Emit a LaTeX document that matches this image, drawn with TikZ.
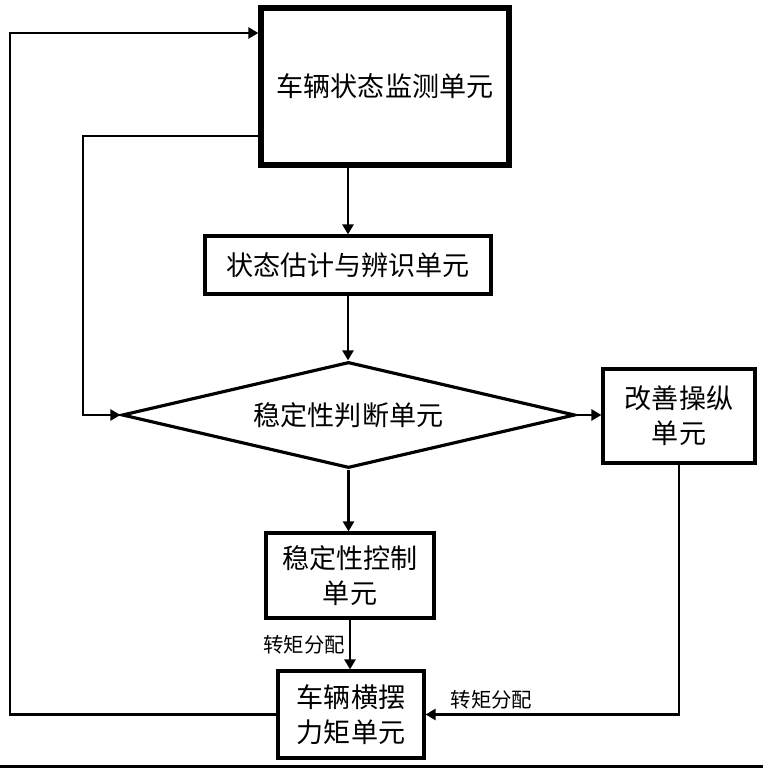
\documentclass[tikz,border=0pt]{standalone}
\usepackage{fontspec}
\newfontfamily\cjk{Noto Sans CJK SC}
\usetikzlibrary{shapes,arrows,positioning,calc,arrows.meta}

\begin{document}
\begin{tikzpicture}[font=\cjk\fontsize{7.7}{10}\selectfont,
    >={Triangle[length=1mm,width=1.1mm]},
    unit/.style={draw, line width=0.9pt, inner sep=0pt, align=center},
    flow/.style={->, line width=0.8pt},
    tag/.style={font=\cjk\fontsize{5.8}{7}\selectfont, inner sep=1pt}]
    \useasboundingbox (0,0) rectangle (7.63,7.68);
    % Units
    \node[unit, line width=1.5pt, minimum width=2.48cm, minimum height=1.57cm] (mon) at (3.85,6.815) {车辆状态监测单元};
    \node[unit, minimum width=2.86cm, minimum height=0.58cm] (est) at (3.48,5.03) {状态估计与辨识单元};
    \node[draw, diamond, aspect=4.27, line width=0.9pt, inner sep=0pt, minimum width=4.53cm, minimum height=1.06cm] (judge) at (3.485,3.53) {稳定性判断单元};
    \node[unit, minimum width=1.52cm, minimum height=0.94cm] (imp) at (6.79,3.52) {改善操纵\\单元};
    \node[unit, minimum width=1.68cm, minimum height=0.85cm] (ctrl) at (3.50,1.925) {稳定性控制\\单元};
    \node[unit, minimum width=1.46cm, minimum height=0.87cm] (yaw) at (3.51,0.535) {车辆横摆\\力矩单元};
    % Loop corners
    \coordinate (outerl) at (0.10,7.35);
    \coordinate (innerl) at (0.83,6.32);
    % Main flow
    \draw[flow] (mon.south -| est.north) -- (est.north);
    \draw[flow] (est.south) -- (est.south |- judge.north);
    \draw[flow] (judge.east) -- (judge.east -| imp.west);
    \draw[flow] (judge.south) -- (judge.south |- ctrl.north);
    \draw[flow] (ctrl.south) -- (ctrl.south |- yaw.north) node[midway, left, tag] {转矩分配};
    \draw[flow] (imp.south) |- (yaw.east) node[pos=0.87, above, tag] {转矩分配};
    % Feedback loops
    \draw[flow] (yaw.west) -| (outerl) -- (outerl -| mon.west);
    \draw[flow] (innerl -| mon.west) -- (innerl) |- (judge.west);
    % Bottom rule
    \draw[line width=0.8pt] (0,0.012) -- (7.63,0.012);
\end{tikzpicture}
\end{document}
